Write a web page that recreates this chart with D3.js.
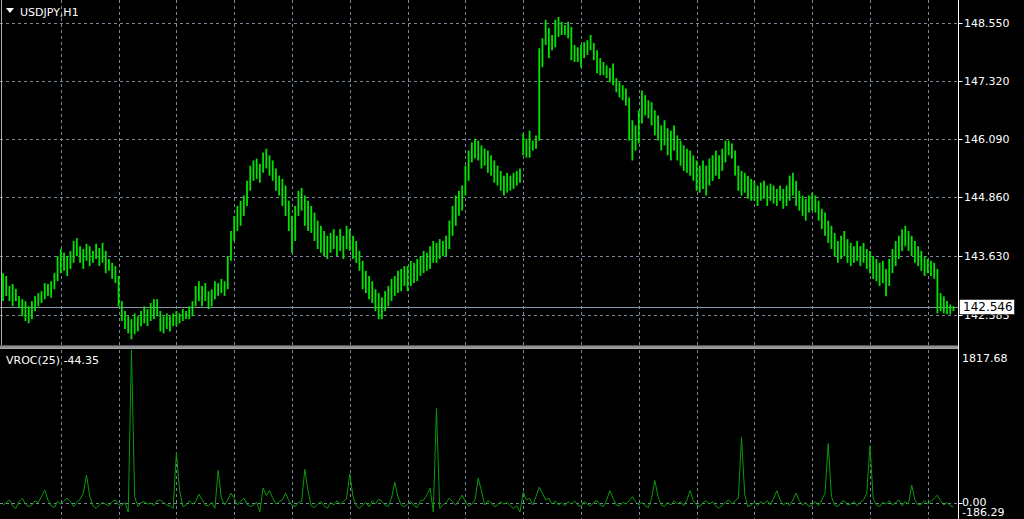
<!DOCTYPE html>
<html><head><meta charset="utf-8">
<script src="https://cdn.jsdelivr.net/npm/d3@7"></script>
<style>html,body{margin:0;padding:0;background:#000;overflow:hidden}svg{display:block}</style>
</head><body>
<svg id="c" width="1024" height="519"></svg>
<script>
// ---- DATA ----
const symbolTitle = "USDJPY,H1";
const indicatorTitle = "VROC(25) -44.35";
const highs = [
143.26,143.20,142.99,143.03,142.93,142.78,142.71,142.67,142.56,142.67,142.78,142.84,142.88,143.05,143.03,143.09,143.26,143.62,
143.77,143.69,143.62,143.73,143.94,144.00,143.83,143.77,143.88,143.83,143.73,143.88,143.79,143.90,143.73,143.56,143.48,143.41,
143.20,142.67,142.46,142.35,142.29,142.41,142.35,142.46,142.56,142.50,142.63,142.71,142.71,142.46,142.35,142.41,142.35,142.41,
142.46,142.41,142.50,142.46,142.56,142.67,142.99,143.09,142.99,143.05,142.88,142.92,143.09,143.05,143.14,143.09,143.62,144.15,
144.47,144.68,144.79,144.90,145.21,145.53,145.64,145.68,145.57,145.81,145.89,145.75,145.64,145.47,145.32,145.25,145.11,144.79,
144.47,144.68,145.00,145.06,144.90,144.79,144.68,144.54,144.37,144.26,144.15,144.05,144.11,144.19,144.05,144.19,144.05,144.26,
144.19,144.05,143.94,143.73,143.52,143.31,143.20,143.09,142.92,142.84,142.75,142.88,142.99,143.14,143.20,143.31,143.35,143.41,
143.41,143.52,143.48,143.56,143.62,143.73,143.69,143.83,143.94,143.90,143.98,143.94,144.05,144.37,144.68,144.90,145.00,145.11,
145.53,145.85,146.02,146.10,146.06,145.96,145.89,145.85,145.75,145.64,145.53,145.42,145.32,145.38,145.32,145.38,145.42,145.47,
146.21,146.10,146.27,146.06,146.17,148.01,148.22,148.61,148.44,148.29,148.61,148.67,148.57,148.50,148.57,148.46,148.08,148.03,
148.08,148.14,148.18,148.29,148.12,147.97,147.80,147.72,147.65,147.59,147.69,147.38,147.29,147.23,147.16,146.97,146.49,146.38,
146.70,147.12,147.02,146.91,146.87,146.70,146.59,146.38,146.49,146.32,146.27,146.38,146.17,146.06,145.96,145.89,145.85,145.75,
145.64,145.53,145.64,145.53,145.68,145.75,145.85,145.75,145.89,146.06,146.06,146.00,145.85,145.53,145.42,145.38,145.32,145.25,
145.21,145.11,145.17,145.21,145.11,145.15,145.11,145.04,145.11,145.04,145.11,145.32,145.38,145.21,145.00,144.90,144.83,144.90,
144.96,144.90,144.79,144.62,144.54,144.37,144.26,144.11,143.94,144.05,144.15,143.98,143.90,143.83,143.94,143.83,143.90,143.77,
143.73,143.62,143.56,143.48,143.52,143.35,143.56,143.77,143.94,144.05,144.19,144.26,144.15,144.05,143.94,143.83,143.73,143.62,
143.56,143.52,143.48,143.35,142.84,142.77,142.67,142.60,142.56];
const lows = [
142.67,142.78,142.67,142.56,142.67,142.52,142.35,142.25,142.20,142.29,142.46,142.56,142.63,142.71,142.78,142.74,142.92,143.09,
143.26,143.31,143.20,143.35,143.48,143.62,143.48,143.35,143.52,143.41,143.48,143.56,143.41,143.48,143.26,143.31,143.14,143.05,
142.56,142.25,142.08,141.99,141.86,141.97,142.03,142.14,142.20,142.14,142.25,142.29,142.35,142.03,141.99,142.08,142.03,142.14,
142.14,142.20,142.25,142.29,142.29,142.35,142.56,142.67,142.56,142.67,142.50,142.56,142.71,142.78,142.84,142.78,142.92,143.52,
143.94,144.15,144.26,144.47,144.68,145.00,145.21,145.25,145.17,145.38,145.47,145.32,145.21,145.00,144.90,144.68,144.47,144.15,
143.69,143.94,144.47,144.58,144.26,144.15,144.11,143.94,143.77,143.69,143.62,143.56,143.69,143.77,143.62,143.73,143.56,143.77,
143.73,143.56,143.48,143.31,142.92,142.84,142.71,142.63,142.46,142.29,142.29,142.46,142.56,142.67,142.78,142.84,142.88,142.99,
142.88,142.99,143.05,143.09,143.20,143.26,143.31,143.35,143.48,143.48,143.56,143.62,143.62,143.77,144.05,144.26,144.47,144.58,
144.90,145.21,145.60,145.68,145.64,145.47,145.53,145.38,145.32,145.17,145.11,145.00,144.90,144.96,145.00,145.04,145.11,145.17,
145.75,145.70,145.70,145.85,145.89,146.06,147.61,148.08,147.80,147.97,148.03,148.25,148.29,148.29,148.22,147.76,147.72,147.72,
147.61,147.80,147.87,147.97,147.76,147.48,147.44,147.44,147.38,147.29,147.23,147.08,146.97,146.91,146.80,146.06,145.64,145.85,
146.00,146.42,146.59,146.53,146.38,146.17,146.06,145.85,145.96,145.75,145.64,145.85,145.64,145.53,145.42,145.38,145.32,145.21,
145.00,144.96,145.04,144.90,145.11,145.21,145.32,145.25,145.42,145.60,145.75,145.68,145.32,145.00,144.90,144.96,144.83,144.79,
144.79,144.68,144.79,144.83,144.68,144.79,144.73,144.68,144.79,144.62,144.68,144.79,144.90,144.68,144.58,144.47,144.37,144.54,
144.58,144.54,144.37,144.19,144.05,143.90,143.77,143.62,143.48,143.56,143.62,143.48,143.41,143.48,143.52,143.41,143.48,143.35,
143.26,143.14,143.09,142.99,143.05,142.77,142.99,143.26,143.41,143.56,143.73,143.83,143.73,143.62,143.48,143.41,143.31,143.20,
143.26,143.20,143.14,142.41,142.46,142.41,142.39,142.39,142.46];
const vroc = [
-20,10,40,-30,-60,20,60,-10,-40,-20,30,10,80,156,40,-30,-50,20,
-10,30,60,20,-40,10,50,120,333,90,-30,-60,-20,10,-10,-30,20,38,
-15,-25,10,-104,1817.68,80,-40,10,20,-10,5,-30,30,38,10,-20,-30,-60,
604,150,-40,-20,30,-10,20,108,40,-20,-30,10,-60,391,60,-20,40,120,
60,-20,20,61,-10,-40,-20,10,-100,180,90,150,60,-10,20,40,120,30,
-20,-40,10,20,403,150,-30,-50,-10,20,-30,-60,10,-20,30,-10,20,60,
350,80,-30,-60,-20,10,-40,30,-10,50,20,-20,-40,60,250,80,-20,-40,
-10,20,-30,-50,30,40,100,180,-104,1123,-60,-20,10,61,20,-20,30,96,
20,-30,-10,40,297,150,-20,30,10,-40,-20,20,-10,10,-30,-60,-30,-104,
132,40,60,-20,80,191,120,40,60,-10,30,-20,10,-30,20,-10,30,-20,
-40,20,-10,-30,10,30,-20,-40,40,150,60,-20,-30,10,-10,30,80,20,
-20,10,-30,-50,60,270,80,-20,-40,10,-20,30,-10,20,-30,40,150,30,
-20,-40,10,30,-10,20,-30,-60,-20,10,40,-10,30,60,780,100,-40,-20,
10,-30,20,-10,30,-20,60,150,40,-20,10,-30,40,120,30,-20,10,-40,
-20,20,-30,40,120,708,80,-20,-40,10,30,-20,-10,20,-30,10,40,120,
684,60,-20,-40,10,-10,30,-20,10,40,-30,20,-10,215,40,-20,-10,30,
-10,20,60,96,30,-20,10,-30,-44.35];
const priceTicks = [148.550, 147.320, 146.090, 144.860, 143.630, 142.383];
const priceTickLabels = ["148.550","147.320","146.090","144.860","143.630","142.383"];
const lastPrice = 142.546;
const lastPriceLabel = "142.546";
const vrocTicks = [1817.68, 0.00, -186.29];
const vrocTickLabels = ["1817.68","0.00","-186.29"];
const gridEveryBars = 18;

// ---- CHART ----
const W = 1024, H = 519;
const plotR = 958.5;
const mainTop = 0, mainBot = 345;
const subTop = 350, subBot = 519;
const N = highs.length;
const svg = d3.select("#c");
svg.append("rect").attr("width",W).attr("height",H).attr("fill","#000");

const x = d3.scaleLinear().domain([0, N-1]).range([3, 3 + 3.211*(N-1)]);
const y = d3.scaleLinear().domain([141.743, 149.029]).range([mainBot, mainTop]);
const yv = d3.scaleLinear().domain([-186.29, 1817.68]).range([subBot, subTop]);

const gridColor = "#778899";
const font = "DejaVu Sans, Verdana, sans-serif";

// vertical grid
const gridIdx = d3.range(gridEveryBars, N, gridEveryBars);
svg.append("g").selectAll("line").data(gridIdx).join("line")
  .attr("x1", d=>Math.round(x(d))+0.5).attr("x2", d=>Math.round(x(d))+0.5)
  .attr("y1", 0).attr("y2", mainBot)
  .attr("stroke", gridColor).attr("stroke-dasharray","3,3").attr("stroke-width",1);
svg.append("g").selectAll("line").data(gridIdx).join("line")
  .attr("x1", d=>Math.round(x(d))+0.5).attr("x2", d=>Math.round(x(d))+0.5)
  .attr("y1", subTop).attr("y2", subBot)
  .attr("stroke", gridColor).attr("stroke-dasharray","3,3").attr("stroke-width",1);

// horizontal price grid
svg.append("g").selectAll("line").data(priceTicks).join("line")
  .attr("x1", 0).attr("x2", plotR)
  .attr("y1", d=>Math.round(y(d))+0.5).attr("y2", d=>Math.round(y(d))+0.5)
  .attr("stroke", gridColor).attr("stroke-dasharray","3,3");

// zero line of VROC
svg.append("line").attr("x1",0).attr("x2",plotR)
  .attr("y1", Math.round(yv(0))+0.5).attr("y2", Math.round(yv(0))+0.5)
  .attr("stroke", gridColor).attr("stroke-dasharray","3,3");

// current price line
svg.append("line").attr("x1",0).attr("x2",plotR)
  .attr("y1", Math.round(y(lastPrice))+0.5).attr("y2", Math.round(y(lastPrice))+0.5)
  .attr("stroke", "#8a97a6").attr("stroke-width",1);

// bars
svg.append("g").selectAll("line").data(d3.range(N)).join("line")
  .attr("x1", i=>x(i)).attr("x2", i=>x(i))
  .attr("y1", i=>y(highs[i])).attr("y2", i=>y(lows[i]))
  .attr("stroke", "#00e400").attr("stroke-width", 1.8);

// VROC line
svg.append("path").datum(vroc)
  .attr("d", d3.line().x((d,i)=>x(i)).y(d=>yv(d)))
  .attr("fill","none").attr("stroke","#0a9a0a").attr("stroke-width",1);

// frames
svg.append("line").attr("x1",1.5).attr("x2",1.5).attr("y1",0).attr("y2",mainBot).attr("stroke","#b0b0b0");
svg.append("rect").attr("x",0).attr("y",mainBot+0.5).attr("width",plotR).attr("height",3.5).attr("fill","#a6a6a6");
svg.append("line").attr("x1",0).attr("x2",plotR).attr("y1",mainBot+2).attr("y2",mainBot+2).attr("stroke","#7a7a7a");
svg.append("line").attr("x1",plotR).attr("x2",plotR).attr("y1",0).attr("y2",H).attr("stroke","#ffffff");

// price axis ticks & labels
svg.append("g").selectAll("line").data(priceTicks).join("line")
  .attr("x1", plotR).attr("x2", plotR+4)
  .attr("y1", d=>Math.round(y(d))+0.5).attr("y2", d=>Math.round(y(d))+0.5)
  .attr("stroke", "#ffffff");
svg.append("g").selectAll("text").data(priceTicks).join("text")
  .attr("x", 964).attr("y", d=>y(d)+4)
  .attr("fill","#ffffff").attr("font-family",font).attr("font-size",11)
  .text((d,i)=>priceTickLabels[i]);

// last price box
const lpY = y(lastPrice);
svg.append("rect").attr("x",959.5).attr("y",lpY-7.5).attr("width",55).attr("height",15)
  .attr("fill","#ffffff").attr("stroke","#000").attr("stroke-width",0.5);
svg.append("text").attr("x",963).attr("y",lpY+4.5).attr("fill","#000")
  .attr("font-family",font).attr("font-size",12).text(lastPriceLabel);

// VROC labels
svg.append("g").selectAll("text").data(vrocTicks).join("text")
  .attr("x", 962).attr("y", (d,i)=> (i===0 ? yv(d)+12 : (i===1 ? yv(d)+3 : yv(d)-3)))
  .attr("fill","#ffffff").attr("font-family",font).attr("font-size",11)
  .text((d,i)=>vrocTickLabels[i]);
svg.append("line").attr("x1",plotR).attr("x2",plotR+4)
  .attr("y1", Math.round(yv(0))+0.5).attr("y2", Math.round(yv(0))+0.5).attr("stroke","#fff");

// titles
svg.append("path").attr("d","M6,8 L14,8 L10,13 Z").attr("fill","#ffffff");
svg.append("text").attr("x",20).attr("y",16).attr("fill","#ffffff")
  .attr("font-family",font).attr("font-size",11).text(symbolTitle);
svg.append("text").attr("x",6).attr("y",364).attr("fill","#ffffff")
  .attr("font-family",font).attr("font-size",11).text(indicatorTitle);
</script>
</body></html>
